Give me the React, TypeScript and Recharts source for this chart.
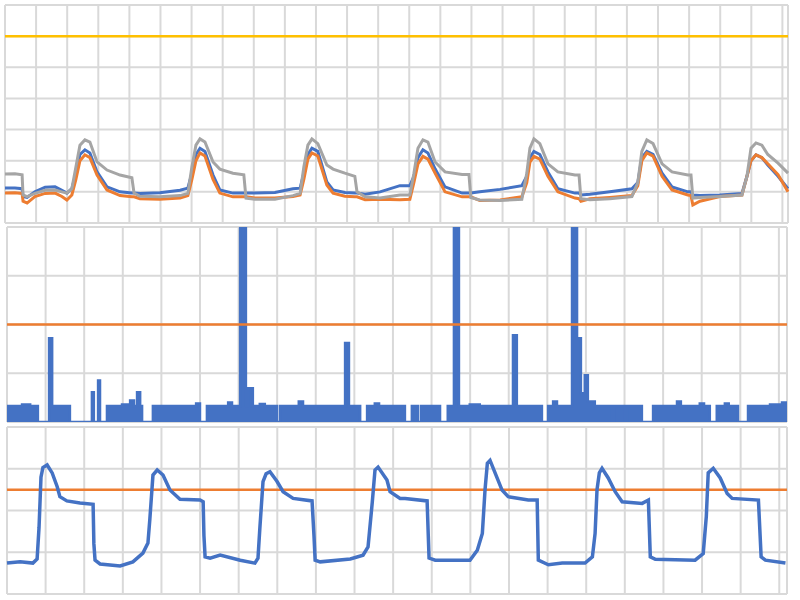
import { Area, AreaChart, CartesianGrid, Line, LineChart, ReferenceLine, XAxis, YAxis } from 'recharts'

// top panel: three traces + limit line
const p1Time = [
  0, 3.2, 5.5, 5.8, 7.1, 9.6, 12.9, 16.1, 18.3, 19.9, 21.5, 22.8, 24.1, 25.7, 27.3, 29.6, 32.8, 37.0, 40.8, 41.5,
  43.4, 49.8, 56.3, 58.8, 60.1, 61.4, 62.7, 64.3, 66.9, 69.1, 73.3, 76.8, 77.5, 80.4, 86.8, 92.6, 94.9, 96.1, 97.4,
  98.7, 100.6, 103.5, 105.5, 109.3, 112.5, 113.2, 115.8, 120.6, 127.0, 130.2, 131.5, 132.8, 134.4, 136.0, 138.3,
  141.5, 147.0, 149.2, 149.8, 152.7, 159.2, 166.2, 167.8, 168.8, 170.1, 172.0, 174.6, 177.8, 183.3, 184.6, 185.2,
  188.1, 194.5, 201.6, 203.5, 204.8, 206.4, 208.4, 211.3, 214.5, 219.6, 220.6, 221.2, 223.5, 229.9, 237.0, 238.6,
  239.9, 241.5, 243.4, 245.3, 248.6, 251.8,
]
const p1Blue = [
  1.12, 1.12, 1.1, 0.85, 0.82, 1.0, 1.15, 1.16, 1.05, 0.96, 1.1, 1.6, 2.2, 2.35, 2.25, 1.64, 1.16, 1.0, 0.96, 0.96,
  0.95, 0.97, 1.05, 1.12, 1.6, 2.2, 2.4, 2.3, 1.54, 1.06, 0.96, 0.96, 0.96, 0.96, 0.98, 1.1, 1.12, 1.6, 2.2,
  2.4, 2.3, 1.32, 1.06, 0.98, 0.96, 0.96, 0.92, 1.0, 1.2, 1.2, 1.5, 2.1, 2.35, 2.25, 1.74,
  1.16, 0.96, 0.96, 0.96, 1.0, 1.08, 1.2, 1.5, 2.1, 2.3, 2.2, 1.64, 1.1, 0.96, 0.96, 0.9,
  0.92, 1.0, 1.1, 1.3, 2.1, 2.3, 2.2, 1.6, 1.16, 1.0, 1.0, 0.9, 0.88, 0.9, 0.95, 1.5,
  2.0, 2.19, 2.1, 1.86, 1.5, 1.1,
]
const p1Orange = [
  0.96, 0.97, 0.95, 0.7, 0.64, 0.85, 0.95, 0.96, 0.85, 0.74, 0.9, 1.4, 2.0, 2.19, 2.1, 1.54, 1.06, 0.88, 0.84, 0.84,
  0.78, 0.76, 0.8, 0.88, 1.4, 2.0, 2.25, 2.15, 1.4, 0.96, 0.84, 0.84, 0.84, 0.8, 0.8, 0.85, 0.9, 1.4, 2.05,
  2.25, 2.15, 1.22, 0.96, 0.86, 0.84, 0.84, 0.75, 0.76, 0.75, 0.76, 1.3, 1.9, 2.14, 2.05, 1.6,
  1.0, 0.84, 0.84, 0.84, 0.72, 0.74, 0.84, 1.3, 1.95, 2.14, 2.05, 1.5, 1.0, 0.8, 0.78, 0.7,
  0.78, 0.82, 0.88, 1.2, 2.0, 2.25, 2.15, 1.5, 1.06, 0.9, 0.88, 0.58, 0.7, 0.85, 0.9, 1.5,
  2.0, 2.19, 2.1, 1.9, 1.55, 1.0,
]
const p1Grey = [
  1.57, 1.58, 1.55, 0.9, 0.85, 0.95, 1.05, 1.06, 1.0, 0.96, 1.1, 1.8, 2.5, 2.67, 2.6, 1.96, 1.7, 1.54, 1.45, 0.96,
  0.86, 0.84, 0.88, 0.95, 1.8, 2.5, 2.7, 2.6, 1.96, 1.73, 1.6, 1.55, 0.8, 0.76, 0.76, 0.88, 0.95, 1.8, 2.5,
  2.7, 2.55, 1.86, 1.73, 1.6, 1.5, 1.0, 0.84, 0.8, 0.9, 0.9, 1.6, 2.4, 2.67, 2.6, 1.96,
  1.64, 1.56, 1.56, 0.82, 0.74, 0.72, 0.76, 1.6, 2.4, 2.7, 2.55, 1.9, 1.64, 1.54, 1.54, 0.78,
  0.75, 0.78, 0.85, 1.3, 2.3, 2.67, 2.55, 1.9, 1.64, 1.54, 1.54, 0.8, 0.82, 0.85, 0.9, 1.5,
  2.4, 2.57, 2.5, 2.2, 1.92, 1.6,
]
const p1Limit = 6
const p1XTicks = [0, 10, 20, 30, 40, 50, 60, 70, 80, 90, 100, 110, 120, 130, 140, 150, 160, 170, 180, 190, 200, 210, 220, 230, 240, 250]
const p1YTicks = [0, 1, 2, 3, 4, 5, 6, 7]

// middle panel: event counts (step trace)
const p2Time = [
  0, 3.9, 6.0, 8.0, 10.9, 11.7, 16.3, 22.0, 22.5, 23.6, 24.1, 25.9, 29.8, 31.9, 32.9, 33.7, 34.5, 35.0, 37.8, 49.0,
  50.0, 51.8, 57.3, 58.3, 60.4, 61.9, 62.4, 63.7, 65.5, 66.8, 69.9, 70.7, 75.6, 76.7, 87.6, 88.6, 91.5, 93.3, 95.3,
  96.4, 103.1, 104.9, 106.5, 107.3, 112.2, 114.2, 115.8, 117.1, 119.9, 122.5, 131.1, 132.1, 138.6, 140.2, 141.5,
  142.5, 146.4, 147.7, 148.7, 149.7, 150.5, 152.3, 156.7, 157.3, 160.1, 160.6, 164.5, 167.4, 173.6, 174.6, 179.5,
  180.6, 182.1, 183.9, 186.0, 187.0, 189.4, 192.0, 197.7, 200.8, 202.1,
]
const p2Value = [
  0.33, 0.36, 0.33, 0, 1.72, 0.33, 0, 0.61, 0, 0.85, 0, 0.33, 0.36, 0.44, 0.33, 0.61, 0.33, 0, 0.33, 0.38,
  0, 0.33, 0.4, 0.33, 4, 0.33, 0.69, 0.33, 0.37, 0.33, 0, 0.33, 0.42, 0.33, 1.62, 0.33, 0, 0.33, 0.38,
  0.33, 0, 0.33, 0, 0.33, 0, 0.33, 4, 0.33, 0.36, 0.33, 1.78, 0.33, 0, 0.33, 0.42,
  0.33, 4, 1.72, 0.59, 0.96, 0.42, 0.33, 0, 0.33, 0, 0.33, 0, 0.33, 0.42, 0.33, 0.38,
  0.33, 0, 0.33, 0.38, 0.33, 0, 0.33, 0.36, 0.4, 0.4,
]
const p2Limit = 2

// bottom panel: cycle trace
const p3Time = [
  0, 3.4, 6.7, 7.8, 8.3, 8.8, 9.3, 10.4, 11.7, 13.0, 13.7, 15.5, 18.9, 22.3, 22.5, 22.8, 24.1, 29.3, 32.6, 35.2,
  36.5, 37.0, 37.8, 38.9, 40.4, 42.2, 44.8, 50.0, 50.8, 51.0, 51.3, 52.6, 55.2, 60.4, 64.2, 65.0, 65.5, 66.3, 67.1,
  68.1, 69.9, 71.5, 74.1, 79.0, 79.5, 79.8, 81.1, 88.9, 92.2, 93.5, 94.6, 95.3, 96.1, 98.4, 99.2, 101.8, 103.1,
  108.8, 109.1, 109.3, 110.9, 119.9, 121.8, 123.1, 123.8, 124.4, 125.1, 126.4, 128.2, 129.8, 135.0, 137.3, 137.6,
  140.2, 143.8, 149.7, 151.6, 152.3, 152.8, 153.4, 154.1, 155.7, 157.5, 159.3, 164.5, 166.1, 166.6, 167.9, 178.2,
  180.3, 181.1, 181.6, 182.9, 184.7, 186.5, 187.8, 194.6, 195.3, 196.4, 201.6,
]
const p3Value = [
  0.74, 0.77, 0.74, 0.84, 1.6, 2.8, 3.03, 3.09, 2.9, 2.57, 2.33, 2.23, 2.18, 2.15, 1.2, 0.81, 0.72, 0.67, 0.77, 0.98,
  1.22, 1.8, 2.85, 2.97, 2.85, 2.49, 2.27, 2.25, 2.21, 1.4, 0.89, 0.86, 0.93, 0.81, 0.74, 0.86, 1.6, 2.69, 2.88,
  2.93, 2.7, 2.45, 2.29, 2.23, 1.4, 0.81, 0.77, 0.84, 0.93, 1.13, 2.2, 2.97, 3.04, 2.73, 2.45, 2.29, 2.29,
  2.23, 1.4, 0.86, 0.81, 0.81, 1.05, 1.45, 2.5, 3.13, 3.2, 2.9, 2.49, 2.33, 2.25, 2.25, 0.81,
  0.7, 0.74, 0.74, 0.89, 1.45, 2.5, 2.9, 3.01, 2.78, 2.45, 2.21, 2.17, 2.25, 0.89, 0.83, 0.81,
  0.97, 1.85, 2.9, 3.01, 2.78, 2.41, 2.29, 2.25, 0.89, 0.81, 0.74,
]
const p3Limit = 2.5
const p23XTicks = [0, 10, 20, 30, 40, 50, 60, 70, 80, 90, 100, 110, 120, 130, 140, 150, 160, 170, 180, 190, 200]
const p23YTicks = [0, 1, 2, 3, 4]

const BLUE = '#4472c4'
const ORANGE = '#ed7d31'
const GREY = '#a5a5a5'
const YELLOW = '#ffc000'
const GRID = '#d9d9d9'

const top = p1Time.map((t, i) => ({ t, blue: p1Blue[i], orange: p1Orange[i], grey: p1Grey[i] }))
const mid = p2Time.map((t, i) => ({ t, v: p2Value[i] }))
const bottom = p3Time.map((t, i) => ({ t, v: p3Value[i] }))

export default function App() {
  return (
    <div style={{ position: 'fixed', left: 0, top: 0, width: 800, height: 600, background: '#fff' }}>
      <div style={{ position: 'absolute', left: 0, top: 0 }}>
        <LineChart width={800} height={226} data={top} margin={{ top: 5, right: 12, bottom: 3, left: 5 }}>
          <CartesianGrid stroke={GRID} strokeWidth={2} />
          <XAxis type="number" dataKey="t" domain={[0, 251.8]} ticks={p1XTicks} hide />
          <YAxis type="number" domain={[0, 7]} ticks={p1YTicks} hide />
          <ReferenceLine y={p1Limit} stroke={YELLOW} strokeWidth={2.5} />
          <Line type="linear" dataKey="blue" stroke={BLUE} strokeWidth={3} dot={false} isAnimationActive={false} />
          <Line type="linear" dataKey="orange" stroke={ORANGE} strokeWidth={3} dot={false} isAnimationActive={false} />
          <Line type="linear" dataKey="grey" stroke={GREY} strokeWidth={3} dot={false} isAnimationActive={false} />
        </LineChart>
      </div>
      <div style={{ position: 'absolute', left: 0, top: 226 }}>
        <AreaChart width={800} height={198} data={mid} margin={{ top: 1, right: 13, bottom: 2, left: 7 }}>
          <CartesianGrid stroke={GRID} strokeWidth={2} />
          <XAxis type="number" dataKey="t" domain={[0, 202]} ticks={p23XTicks} hide />
          <YAxis type="number" domain={[0, 4]} ticks={p23YTicks} allowDataOverflow hide />
          <Area
            type="stepAfter"
            dataKey="v"
            stroke={BLUE}
            strokeWidth={2.5}
            fill={BLUE}
            fillOpacity={1}
            dot={false}
            isAnimationActive={false}
          />
          <ReferenceLine y={p2Limit} stroke={ORANGE} strokeWidth={2.5} />
        </AreaChart>
      </div>
      <div style={{ position: 'absolute', left: 0, top: 424 }}>
        <LineChart width={800} height={176} data={bottom} margin={{ top: 3, right: 13, bottom: 6, left: 7 }}>
          <CartesianGrid stroke={GRID} strokeWidth={2} />
          <XAxis type="number" dataKey="t" domain={[0, 202]} ticks={p23XTicks} hide />
          <YAxis type="number" domain={[0, 4]} ticks={p23YTicks} hide />
          <ReferenceLine y={p3Limit} stroke={ORANGE} strokeWidth={2.5} />
          <Line type="linear" dataKey="v" stroke={BLUE} strokeWidth={3.5} dot={false} isAnimationActive={false} />
        </LineChart>
      </div>
    </div>
  )
}
